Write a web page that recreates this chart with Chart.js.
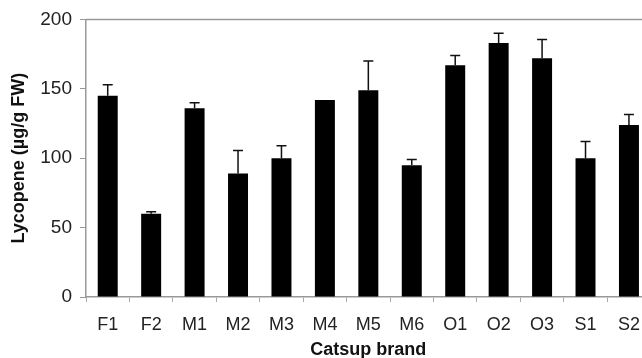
<!DOCTYPE html>
<html>
<head>
<meta charset="utf-8">
<script src="https://cdn.jsdelivr.net/npm/chart.js@4"></script>
<style>
  html, body { margin: 0; padding: 0; background: #fff; overflow: hidden; }
  #wrap { position: relative; width: 652px; height: 358px; }
</style>
</head>
<body>
<div id="wrap"><canvas id="chart"></canvas></div>
<script>
// Catsup brands and lycopene content (µg/g FW), upper error bars
const brands = ['F1', 'F2', 'M1', 'M2', 'M3', 'M4', 'M5', 'M6', 'O1', 'O2', 'O3', 'S1', 'S2'];
const lycopene = [145, 60, 136, 89, 100, 142, 149, 95, 167, 183, 172, 100, 124];
const errors = [8, 1.5, 4, 16.5, 9, 0, 21, 4, 7, 7, 13.5, 12, 7.5];
const yTicks = [0, 50, 100, 150, 200];

// Draw the upper error bars and the frame line along the top
const errorBars = {
    id: 'errorBars',
    afterDatasetsDraw(chart) {
        const ctx = chart.ctx;
        const meta = chart.getDatasetMeta(0);
        const y = chart.scales.y;
        ctx.save();
        ctx.strokeStyle = '#111';
        ctx.lineWidth = 1.5;
        meta.data.forEach((bar, i) => {
            if (!errors[i]) return;
            const top = y.getPixelForValue(lycopene[i] + errors[i]);
            ctx.beginPath();
            ctx.moveTo(bar.x, bar.y);
            ctx.lineTo(bar.x, top);
            ctx.moveTo(bar.x - 5, top);
            ctx.lineTo(bar.x + 5, top);
            ctx.stroke();
        });
        const area = chart.chartArea;
        ctx.strokeStyle = '#999';
        ctx.lineWidth = 1.5;
        ctx.beginPath();
        ctx.moveTo(area.left, area.top);
        ctx.lineTo(area.right, area.top);
        ctx.stroke();
        ctx.restore();
    }
};

new Chart(document.getElementById('chart'), {
    type: 'bar',
    data: {
        labels: brands,
        datasets: [{
            data: lycopene,
            backgroundColor: '#000',
            borderWidth: 0,
            categoryPercentage: 1,
            barPercentage: 0.46
        }]
    },
    options: {
        responsive: true,
        maintainAspectRatio: false,
        animation: false,
        layout: { padding: { top: 18, right: 1, left: 0, bottom: 0 } },
        plugins: { legend: { display: false }, tooltip: { enabled: false } },
        scales: {
            x: {
                offset: true,
                grid: { offset: true, drawOnChartArea: false, tickLength: 5, color: '#aaa' },
                border: { color: '#999', width: 1.5 },
                ticks: { color: '#222', font: { family: 'Liberation Sans', size: 18 }, padding: 12, maxRotation: 0 },
                title: {
                    display: true,
                    text: 'Catsup brand',
                    color: '#111',
                    font: { family: 'Liberation Sans', size: 18, weight: 'bold', lineHeight: 1 },
                    padding: { top: 0, bottom: -1 }
                },
                afterFit(scale) { scale.height = 61; }
            },
            y: {
                min: 0,
                max: 200,
                afterBuildTicks(scale) { scale.ticks = yTicks.map(v => ({ value: v })); },
                grid: { drawOnChartArea: false, tickLength: 6, color: '#999' },
                border: { color: '#999', width: 1.5 },
                ticks: { color: '#222', font: { family: 'Liberation Sans', size: 19 }, padding: 8 },
                title: {
                    display: true,
                    text: 'Lycopene (µg/g FW)',
                    color: '#111',
                    font: { family: 'Liberation Sans', size: 18, weight: 'bold' },
                    padding: { top: 8, bottom: 0 }
                },
                afterFit(scale) { scale.width = 86; }
            }
        }
    },
    plugins: [errorBars]
});
</script>
</body>
</html>
